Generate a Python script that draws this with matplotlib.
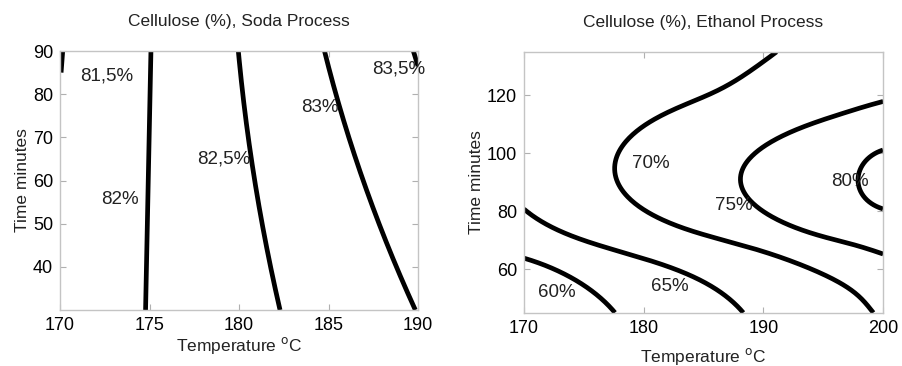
import matplotlib.pyplot as plt
import numpy as np

plt.rcParams['font.family'] = ['Liberation Sans', 'DejaVu Sans']

# soda process: contour lines traced as (temperature, time) points
soda_815_x = [170.06, 170.15]
soda_815_y = [85.0, 90.0]
soda_82_x = [174.78, 174.93, 175.08]
soda_82_y = [30.0, 60.0, 90.0]
soda_825_x = [182.29, 181.36, 180.99, 180.71, 180.34, 179.96]
soda_825_y = [30.0, 48.9, 56.6, 64.4, 75.9, 90.0]
soda_83_x = [189.83, 189.18, 188.44, 187.69, 187.04, 186.39, 185.83, 185.27, 184.8]
soda_83_y = [30.0, 36.6, 43.5, 51.2, 59.0, 66.7, 74.4, 81.4, 90.0]
soda_835_x = [190.0, 189.74]
soda_835_y = [86.5, 90.0]
soda_labels = ['81,5%', '82%', '82,5%', '83%', '83,5%']
soda_lab_x = [172.6, 173.35, 179.15, 184.5, 188.9]
soda_lab_y = [84.1, 55.5, 64.9, 77.0, 85.9]

# ethanol process
eth_60_x = [170.0, 172.03, 174.26, 175.93, 177.6]
eth_60_y = [63.8, 60.9, 56.3, 51.7, 45.0]
eth_65_x = [170.0, 172.03, 174.82, 177.6, 180.38, 183.17, 184.7, 186.93, 188.32]
eth_65_y = [80.7, 75.2, 70.1, 66.6, 63.2, 59.1, 56.3, 50.5, 45.0]
eth_70_x = [191.11, 189.44, 187.49, 184.7, 181.92, 179.69, 178.3, 177.55, 177.5,
            177.74, 179.13, 181.92, 184.7, 187.49, 190.27, 193.06, 195.84,
            198.07, 199.18]
eth_70_y = [135.0, 129.8, 124.7, 118.9, 113.8, 108.0, 102.8, 98.0, 94.5,
            90.8, 82.7, 77.0, 72.4, 68.9, 65.5, 62.0, 56.3, 50.5, 45.0]
eth_75_x = [200.0, 196.96, 194.17, 191.39, 189.16, 187.95, 188.05, 189.16,
            191.39, 194.17, 196.96, 200.0]
eth_75_y = [117.8, 114.3, 110.3, 105.1, 99.4, 93.0, 88.4, 82.7, 77.0,
            72.4, 68.9, 65.3]
eth_80_x = [200.0, 198.63, 197.93, 198.21, 200.0]
eth_80_y = [101.1, 97.7, 91.9, 86.2, 80.8]
eth_labels = ['60%', '65%', '70%', '75%', '80%']
eth_lab_x = [172.75, 182.2, 180.6, 187.5, 197.2]
eth_lab_y = [51.9, 54.0, 96.3, 81.8, 90.4]


def smooth(xs, ys, sx, sy, deg):
    # least-squares polynomial through the traced points along chord length,
    # just to even out the hand-tracing wobble
    x = np.asarray(xs, float) / sx
    y = np.asarray(ys, float) / sy
    if len(x) < 3:
        return x * sx, y * sy
    d = np.r_[0, np.cumsum(np.hypot(np.diff(x), np.diff(y)))]
    d = d / d[-1]
    t = np.linspace(0, 1, 300)
    deg = min(deg, len(x) - 1)
    return np.polyval(np.polyfit(d, x, deg), t) * sx, np.polyval(np.polyfit(d, y, deg), t) * sy


def style(ax, lp):
    for s in ax.spines.values():
        s.set_color('#c4c4c4')
        s.set_linewidth(1)
    ax.tick_params(direction='in', length=4, color='#b0b0b0', labelsize=13,
                   top=True, right=True, pad=5)
    ax.set_xlabel('Temperature $^{\\rm o}$C', fontsize=12.5, color='#222222', labelpad=lp)
    ax.set_ylabel('Time minutes', fontsize=12.5, color='#222222', labelpad=2)


fig = plt.figure(figsize=(9.02, 3.66), dpi=100)
ax1 = fig.add_axes([60 / 902, 1 - 310 / 366, 358 / 902, 259 / 366])
ax2 = fig.add_axes([524 / 902, 1 - 312.7 / 366, 359 / 902, 261 / 366])

for xs, ys in [(soda_815_x, soda_815_y), (soda_82_x, soda_82_y),
               (soda_825_x, soda_825_y), (soda_83_x, soda_83_y),
               (soda_835_x, soda_835_y)]:
    cx, cy = smooth(xs, ys, 20, 60, 2)
    ax1.plot(cx, cy, color='black', lw=3.4, solid_capstyle='butt')
for lab, x, y in zip(soda_labels, soda_lab_x, soda_lab_y):
    ax1.text(x, y, lab, fontsize=13.5, ha='center', va='center', color='#222222')
ax1.set_xlim(170, 190)
ax1.set_ylim(30, 90)
ax1.set_xticks([170, 175, 180, 185, 190])
ax1.set_yticks([40, 50, 60, 70, 80, 90])
ax1.set_title('Cellulose (%), Soda Process', fontsize=12.5, color='#222222', pad=18)
style(ax1, 1)

for xs, ys, dg in [(eth_60_x, eth_60_y, 3), (eth_65_x, eth_65_y, 4),
                   (eth_70_x, eth_70_y, 9), (eth_75_x, eth_75_y, 6),
                   (eth_80_x, eth_80_y, 4)]:
    cx, cy = smooth(xs, ys, 30, 90, dg)
    ax2.plot(cx, cy, color='black', lw=3.4, solid_capstyle='butt')
for lab, x, y in zip(eth_labels, eth_lab_x, eth_lab_y):
    ax2.text(x, y, lab, fontsize=13.5, ha='center', va='center', color='#222222')
ax2.set_xlim(170, 200)
ax2.set_ylim(45, 135)
ax2.set_xticks([170, 180, 190, 200])
ax2.set_yticks([60, 80, 100, 120])
ax2.set_title('Cellulose (%), Ethanol Process', fontsize=12.5, color='#222222', pad=18)
style(ax2, 7)

fig.savefig('out.png', dpi=100)
